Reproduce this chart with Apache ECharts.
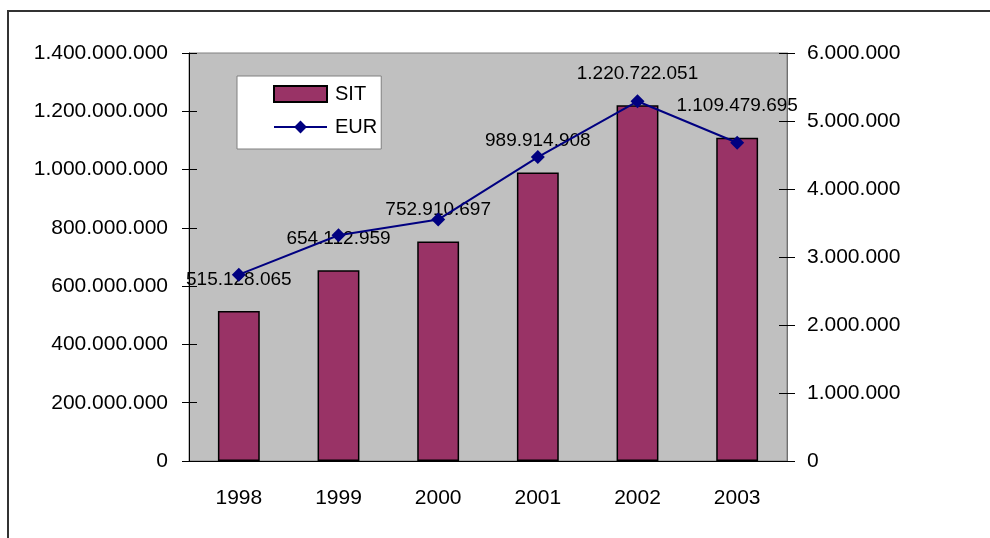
<!DOCTYPE html>
<html>
<head>
    <meta charset="utf-8">
    <title>SIT / EUR 1998-2003</title>
    <script src="https://cdn.jsdelivr.net/npm/echarts@6/dist/echarts.min.js"></script>
    <style>
        html, body { margin: 0; padding: 0; background: #fff; }
        #grafico { width: 990px; height: 538px; }
    </style>
</head>
<body>
    <div id="grafico"></div>

    <script>
        // Datos del gráfico
        const leta = ['1998', '1999', '2000', '2001', '2002', '2003'];
        const vrednostiSIT = [515128065, 654112959, 752910697, 989914908, 1220722051, 1109479695];
        const vrednostiEUR = [2740000, 3320000, 3550000, 4470000, 5290000, 4680000];
        const osSIT = { min: 0, max: 1400000000, interval: 200000000 };
        const osEUR = { min: 0, max: 6000000, interval: 1000000 };

        const pisava = 'Liberation Sans, Arial, sans-serif';

        // formato con puntos como separador de miles
        function fmt(v) {
            return String(v).replace(/\B(?=(\d{3})+(?!\d))/g, '.');
        }

        const grafico = echarts.init(document.getElementById('grafico'));

        const opciones = {
            animation: false,
            graphic: [{
                type: 'rect',
                shape: { x: 8, y: 11, width: 1100, height: 700 },
                style: { fill: 'none', stroke: '#333', lineWidth: 2 },
                silent: true
            }],
            grid: {
                left: 189, right: 203, top: 53, bottom: 77,
                show: true,
                backgroundColor: '#C0C0C0',
                borderColor: '#808080',
                borderWidth: 1
            },
            legend: {
                orient: 'vertical',
                left: 237, top: 76,
                backgroundColor: '#fff',
                borderColor: '#808080',
                borderWidth: 1,
                borderRadius: 0,
                padding: [8, 4, 12, 36],
                itemWidth: 53,
                itemHeight: 16,
                itemGap: 13,
                textStyle: { fontSize: 20, color: '#000', fontFamily: pisava, padding: [0, 0, 0, 3] },
                data: [{ name: 'SIT', icon: 'rect' }, { name: 'EUR' }]
            },
            xAxis: [{
                type: 'category',
                data: leta,
                position: 'bottom',
                axisLine: { lineStyle: { color: '#000', width: 1 } },
                axisTick: { length: 8, lineStyle: { color: '#000' } },
                axisLabel: { fontSize: 21, color: '#000', fontFamily: pisava, margin: 27 }
            }, {
                // ticks hacia dentro (marcas cruzadas)
                type: 'category',
                data: leta,
                position: 'bottom',
                axisLine: { show: false },
                axisTick: { inside: true, length: 8, lineStyle: { color: '#000' } },
                axisLabel: { show: false }
            }],
            yAxis: [{
                type: 'value',
                position: 'left',
                min: osSIT.min, max: osSIT.max, interval: osSIT.interval,
                splitLine: { show: false },
                axisLine: { show: true, lineStyle: { color: '#000' } },
                axisTick: { show: true, length: 7, lineStyle: { color: '#000' } },
                axisLabel: { fontSize: 21, color: '#000', fontFamily: pisava, margin: 21, formatter: fmt }
            }, {
                type: 'value',
                position: 'right',
                min: osEUR.min, max: osEUR.max, interval: osEUR.interval,
                splitLine: { show: false },
                axisLine: { show: true, lineStyle: { color: '#707070' } },
                axisTick: { show: true, length: 8, lineStyle: { color: '#000' } },
                axisLabel: { fontSize: 21, color: '#000', fontFamily: pisava, margin: 20, formatter: fmt }
            }, {
                type: 'value',
                position: 'left',
                min: osSIT.min, max: osSIT.max, interval: osSIT.interval,
                splitLine: { show: false },
                axisLine: { show: false },
                axisTick: { show: true, inside: true, length: 8, lineStyle: { color: '#000' } },
                axisLabel: { show: false }
            }, {
                type: 'value',
                position: 'right',
                min: osEUR.min, max: osEUR.max, interval: osEUR.interval,
                splitLine: { show: false },
                axisLine: { show: false },
                axisTick: { show: true, inside: true, length: 8, lineStyle: { color: '#000' } },
                axisLabel: { show: false }
            }],
            series: [{
                name: 'SIT',
                type: 'bar',
                yAxisIndex: 0,
                barWidth: '42%',
                data: vrednostiSIT,
                itemStyle: { color: '#993366', borderColor: '#000', borderWidth: 1.5 },
                label: {
                    show: true,
                    position: 'top',
                    distance: 22,
                    fontSize: 19,
                    color: '#000',
                    fontFamily: pisava,
                    formatter: p => fmt(p.value)
                }
            }, {
                name: 'EUR',
                type: 'line',
                yAxisIndex: 1,
                data: vrednostiEUR,
                symbol: 'diamond',
                symbolSize: 14,
                z: 5,
                itemStyle: { color: '#000080' },
                lineStyle: { color: '#000080', width: 2 }
            }]
        };

        grafico.setOption(opciones);
    </script>
</body>
</html>
